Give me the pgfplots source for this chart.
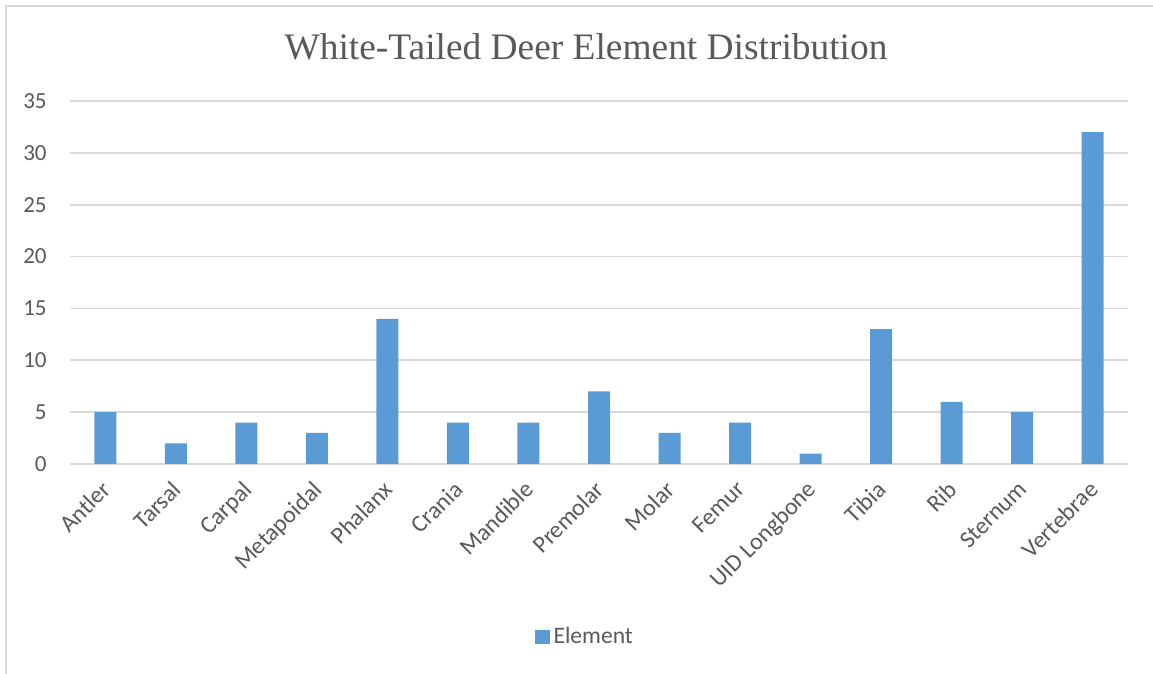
\documentclass[border=0pt]{standalone}
\usepackage{pgfplots}
\pgfplotsset{compat=1.18}
\usepackage{fontspec}
\setmainfont{Carlito}
\newfontfamily\titlefont{Liberation Serif}
\definecolor{barblue}{HTML}{5B9BD5}
\definecolor{txtgray}{HTML}{595959}
\definecolor{gridgray}{HTML}{D9D9D9}
\begin{document}
\begin{tikzpicture}
  % canvas and chart frame (left and top edges visible)
  \path[use as bounding box] (0pt,0pt) rectangle (576.5pt,337pt);
  \draw[gridgray,line width=1.2pt] (3pt,0pt) -- (3pt,334pt) -- (576.5pt,334pt);
  % title
  \node[anchor=base,font=\titlefont\fontsize{18.7}{22}\selectfont,text=txtgray,inner sep=0pt]
    at (293pt,307pt) {White-Tailed Deer Element Distribution};
  \begin{axis}[
    at={(35pt,105pt)}, anchor=south west,
    scale only axis,
    width=529pt, height=181.5pt,
    xmin=-0.5, xmax=14.5,
    ymin=0, ymax=35,
    ytick={0,5,...,35},
    xtick={0,...,14},
    xticklabels={Antler,Tarsal,Carpal,Metapoidal,Phalanx,Crania,Mandible,Premolar,Molar,Femur,UID Longbone,Tibia,Rib,Sternum,Vertebrae},
    ymajorgrids,
    major grid style={gridgray,line width=0.9pt},
    axis line style={draw=none},
    major tick length=0pt,
    tick style={draw=none},
    /pgf/number format/assume math mode=true,
    ticklabel style={font=\fontsize{11.5}{13}\selectfont,text=txtgray},
    yticklabel style={anchor=east,inner sep=0pt,xshift=-11.5pt},
    xticklabel style={font=\fontsize{12}{13}\selectfont,xshift=-2.5pt,yshift=-7.5pt,rotate=45,anchor=north east,inner sep=0pt},
    legend style={at={(0.4877,-0.4766)},anchor=center,draw=none,fill=none,
      font=\fontsize{11.8}{13}\selectfont,text=txtgray},
    legend image code/.code={\fill[barblue] (0pt,-3.6pt) rectangle (7.2pt,3.6pt);},
    clip=false,
  ]
    % baseline of the value axis
    \draw[gridgray,line width=0.9pt] (axis cs:-0.5,0) -- (axis cs:14.5,0);
    \addplot[ybar,bar width=11pt,fill=barblue,draw=none] coordinates {
      (0,5) (1,2) (2,4) (3,3) (4,14) (5,4) (6,4) (7,7)
      (8,3) (9,4) (10,1) (11,13) (12,6) (13,5) (14,32)
    };
    \addlegendentry{Element}
  \end{axis}
\end{tikzpicture}
\end{document}
